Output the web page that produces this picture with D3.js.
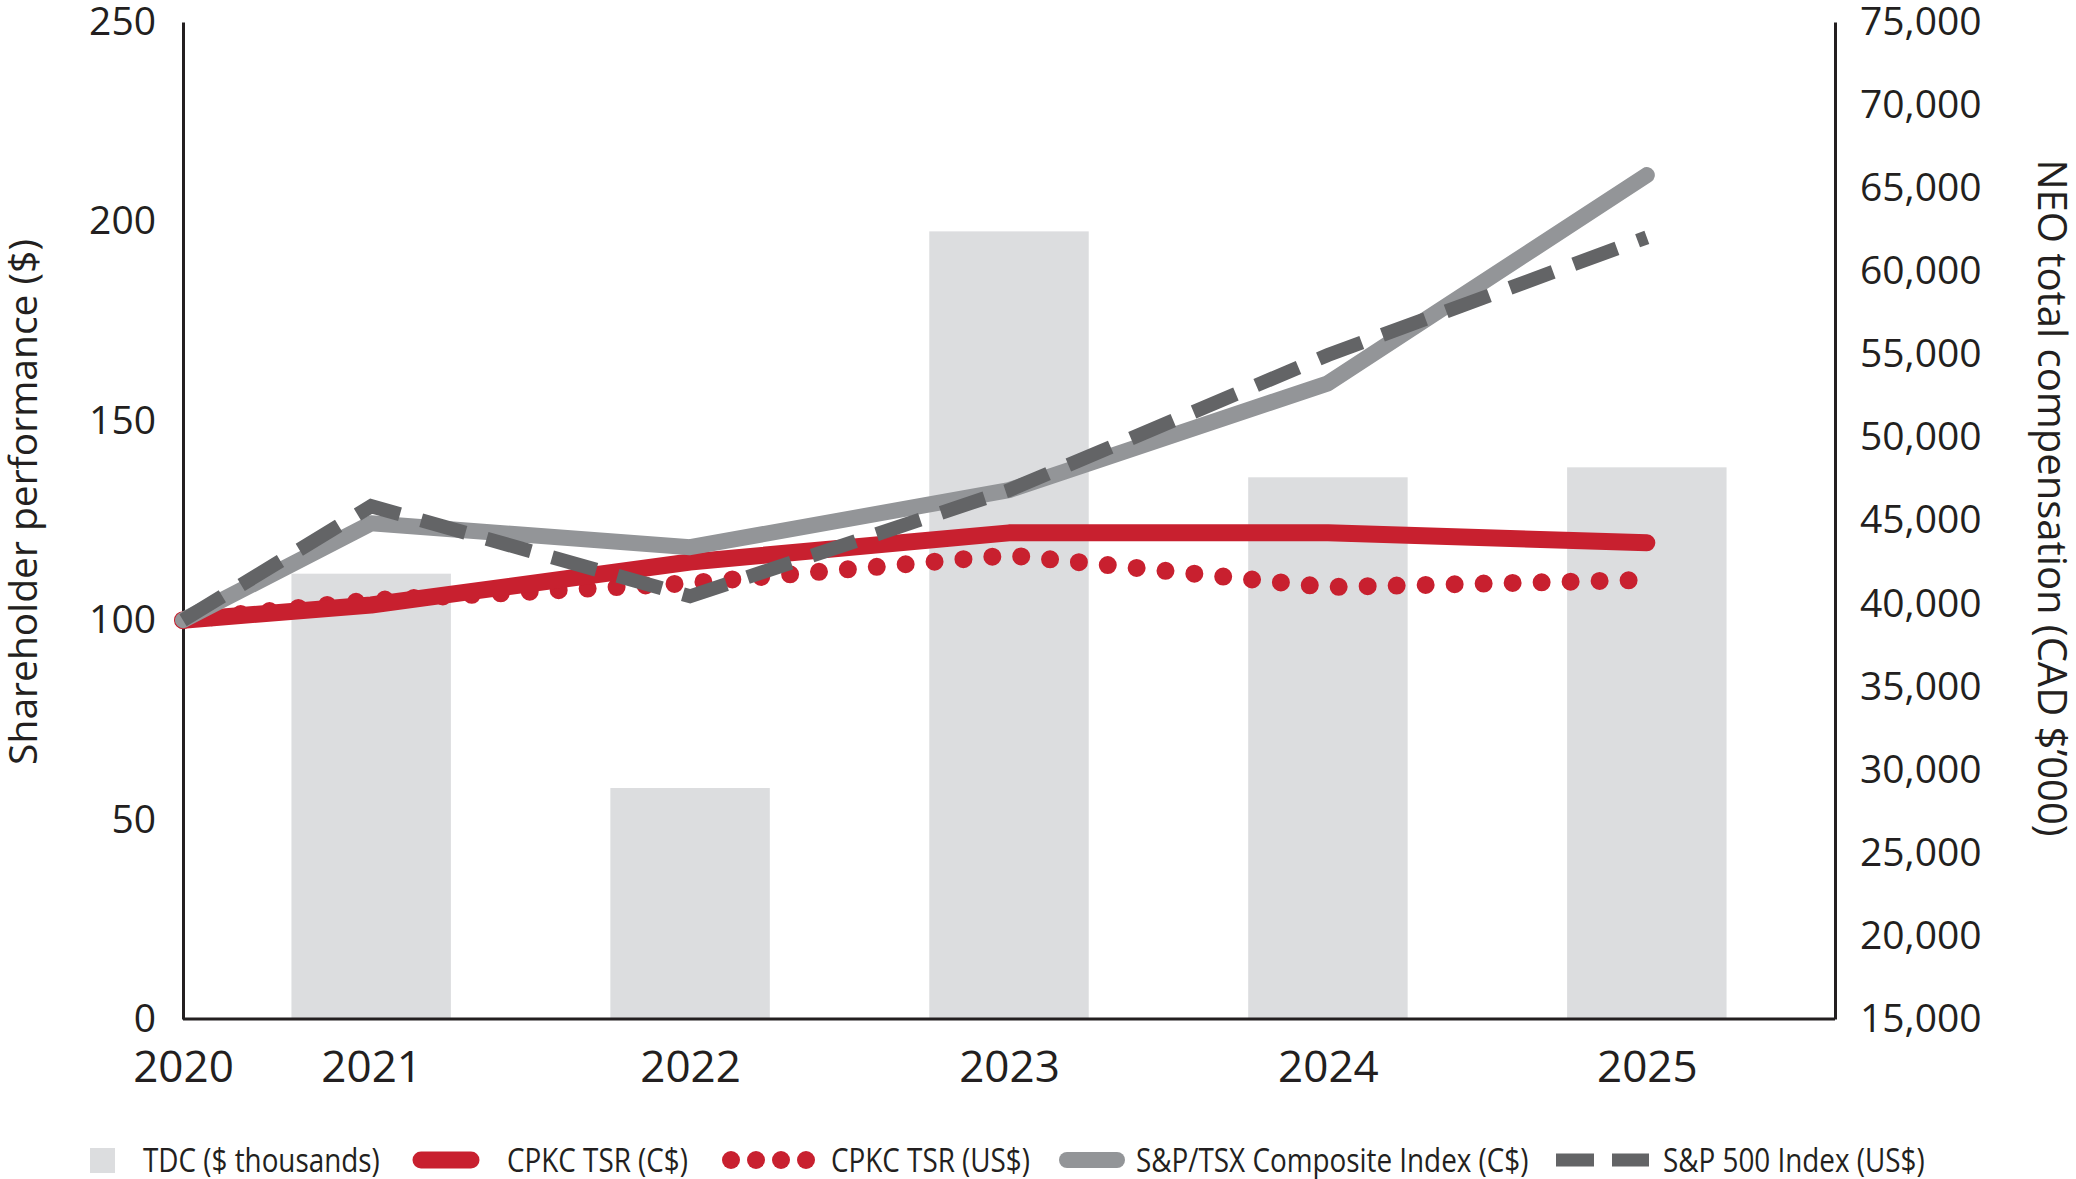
<!DOCTYPE html>
<html>
<head>
<meta charset="utf-8">
<script src="https://cdn.jsdelivr.net/npm/d3@7"></script>
<style>
  html, body { margin: 0; padding: 0; background: #fff; overflow: hidden; }
  svg { display: block; }
  svg text { font-family: "Open Sans", "Noto Sans", sans-serif; fill: #231f20; }
</style>
</head>
<body>
<div id="chart"></div>
<script>
// chart data
var years = [2020, 2021, 2022, 2023, 2024, 2025]
var barYears = [2021, 2022, 2023, 2024, 2025]
var tdc = [41800, 28900, 62400, 47600, 48200]
var tsrCad = [100, 103.8, 114.6, 121.9, 121.9, 119.4]
var tsrUsd = [100, 105, 109.3, 116.3, 108.3, 110.1]
var tsxIndex = [100, 124.3, 118.3, 132.6, 159.4, 211.6]
var sp500 = [100, 128.6, 106, 132.6, 166.5, 196]
var leftTicks = [0, 50, 100, 150, 200, 250]
var rightTicks = [15000, 20000, 25000, 30000, 35000, 40000, 45000, 50000, 55000, 60000, 65000, 70000, 75000]
var legendLabels = ["TDC ($ thousands)", "CPKC TSR (C$)", "CPKC TSR (US$)", "S&P/TSX Composite Index (C$)", "S&P 500 Index (US$)"]

var outerWidth = 2076, outerHeight = 1179
var margins = {top: 22, right: 241, bottom: 160, left: 183}
var innerWidth = outerWidth - margins.left - margins.right
var innerHeight = outerHeight - margins.top - margins.bottom

var red = "#c8202f", gray = "#939598", darkGray = "#636466", barColor = "#dcdddf", ink = "#231f20"

var svg = d3.select("#chart").append("svg")
    .attr("width", outerWidth)
    .attr("height", outerHeight)

var plot = svg.append("g")
    .attr("transform", "translate(" + margins.left + "," + margins.top + ")")

var xBand = d3.scaleBand().domain(barYears).range([0, innerWidth])
    .paddingInner(0.5).paddingOuter(0.34)

// 2020 sits on the left axis, the other years at the band centres
var xLine = d3.scaleOrdinal().domain(years)
    .range([0].concat(barYears.map(function(y){ return xBand(y) + xBand.bandwidth() / 2 })))

var yLeft = d3.scaleLinear().domain([0, 250]).range([innerHeight, 0])
var yRight = d3.scaleLinear().domain([15000, 75000]).range([innerHeight, 0])

// bars
plot.selectAll(".bar")
    .data(tdc)
    .enter()
    .append("rect")
    .attr("class", "bar")
    .attr("x", function(d, i){ return xBand(barYears[i]) })
    .attr("y", function(d){ return yRight(d) })
    .attr("width", xBand.bandwidth())
    .attr("height", function(d){ return innerHeight - yRight(d) })
    .attr("fill", barColor)

// axes
var leftAxis = plot.append("g")
    .call(d3.axisLeft(yLeft).tickValues(leftTicks).tickSize(0).tickPadding(27))
var rightAxis = plot.append("g")
    .attr("transform", "translate(" + innerWidth + ",0)")
    .call(d3.axisRight(yRight).tickValues(rightTicks).tickFormat(d3.format(",")).tickSize(0).tickPadding(25))
var bottomAxis = plot.append("g")
    .attr("transform", "translate(0," + innerHeight + ")")
    .call(d3.axisBottom(xLine).tickSize(0).tickPadding(32))

plot.selectAll(".domain").attr("stroke", ink).attr("stroke-width", 3)
plot.selectAll(".tick text").attr("fill", ink)
    .style("font-family", '"Open Sans", "Noto Sans", sans-serif')
leftAxis.selectAll(".tick text").attr("font-size", "39px")
rightAxis.selectAll(".tick text").attr("font-size", "39px")
bottomAxis.selectAll(".tick text").attr("font-size", "44px")
bottomAxis.select(".domain").attr("d", "M0,0H" + innerWidth)

// lines
var line = d3.line()
    .x(function(d, i){ return xLine(years[i]) })
    .y(function(d){ return yLeft(d) })

plot.append("path").datum(tsrUsd)
    .attr("d", line).attr("fill", "none")
    .attr("stroke", red).attr("stroke-width", 18)
    .attr("stroke-linecap", "round").attr("stroke-dasharray", "0,29")

plot.append("path").datum(tsrCad)
    .attr("d", line).attr("fill", "none")
    .attr("stroke", red).attr("stroke-width", 17)
    .attr("stroke-linecap", "round").attr("stroke-linejoin", "round")

plot.append("path").datum(tsxIndex)
    .attr("d", line).attr("fill", "none")
    .attr("stroke", gray).attr("stroke-width", 16)
    .attr("stroke-linecap", "round").attr("stroke-linejoin", "round")

plot.append("path").datum(sp500)
    .attr("d", line).attr("fill", "none")
    .attr("stroke", darkGray).attr("stroke-width", 14)
    .attr("stroke-dasharray", "46,22")

// axis titles
svg.append("text")
    .attr("transform", "translate(21,502) rotate(-90)")
    .attr("text-anchor", "middle")
    .attr("dominant-baseline", "central")
    .attr("font-size", "39px")
    .text("Shareholder performance ($)")

svg.append("text")
    .attr("transform", "translate(2053,498) rotate(90)")
    .attr("text-anchor", "middle")
    .attr("dominant-baseline", "central")
    .attr("font-size", "40px")
    .text("NEO total compensation (CAD $\u2019000)")

// legend
var legendY = 1160
var legendItems = [
    {swatch: [90, 115], text: 143},
    {swatch: [421, 471], text: 507},
    {swatch: [731, 806], text: 831},
    {swatch: [1067, 1117], text: 1136},
    {swatch: [1556, 1649], text: 1663}
]
var legend = svg.append("g")

legend.append("rect")
    .attr("x", legendItems[0].swatch[0]).attr("y", legendY - 12)
    .attr("width", 25).attr("height", 25).attr("fill", barColor)

var swatchStyles = [null,
    {stroke: red, width: 17, cap: "round", dash: null},
    null,
    {stroke: gray, width: 16, cap: "round", dash: null},
    {stroke: darkGray, width: 13, cap: "butt", dash: "38,18"}]

// four dots for the US$ series
legend.selectAll(".legend-dot")
    .data(d3.range(4))
    .enter()
    .append("circle")
    .attr("class", "legend-dot")
    .attr("cx", function(k){ return legendItems[2].swatch[0] + k * (legendItems[2].swatch[1] - legendItems[2].swatch[0]) / 3 })
    .attr("cy", legendY)
    .attr("r", 9)
    .attr("fill", red)

legendItems.forEach(function(item, i){
    var s = swatchStyles[i]
    if (s) {
        legend.append("line")
            .attr("x1", item.swatch[0]).attr("x2", item.swatch[1])
            .attr("y1", legendY).attr("y2", legendY)
            .attr("stroke", s.stroke).attr("stroke-width", s.width)
            .attr("stroke-linecap", s.cap)
            .attr("stroke-dasharray", s.dash)
    }
    legend.append("text")
        .attr("transform", "translate(" + item.text + "," + legendY + ") scale(0.87,1)")
        .attr("dominant-baseline", "central")
        .attr("font-size", "32px")
        .text(legendLabels[i])
})
</script>
</body>
</html>
